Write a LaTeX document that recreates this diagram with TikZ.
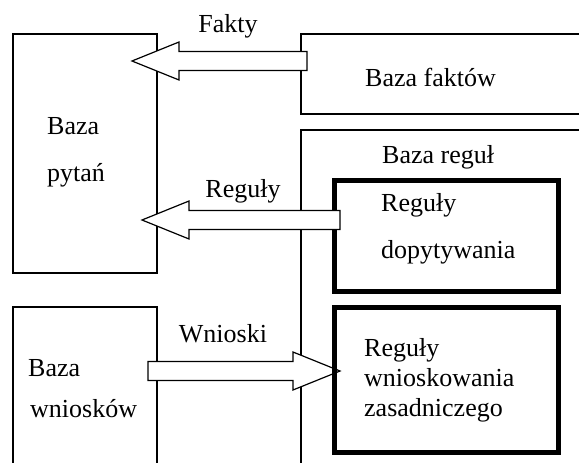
\documentclass[tikz,border=0pt]{standalone}
\usepackage{fontspec}
\setmainfont{Liberation Serif}
\usetikzlibrary{calc}
\def\blockarrow[#1](#2)(#3)% Syntax: [draw options] (tail) (tip), horizontal arrows only
    { \draw[#1] let \p1=(#2), \p2=(#3), \n1={sign(\x2-\x1)*47pt} in
        (\x1,\y1+9.5pt) -- (\x2-\n1,\y1+9.5pt) -- (\x2-\n1,\y1+19pt) -- (\x2,\y2)
        -- (\x2-\n1,\y1-19pt) -- (\x2-\n1,\y1-9.5pt) -- (\x1,\y1-9.5pt) -- cycle; }
\tikzset{
  box/.style={draw, line width=1.8pt, anchor=north west, inner sep=0pt},
  rulebox/.style={draw, line width=4.5pt, anchor=north west, inner sep=0pt},
  txt/.style={anchor=base west, inner sep=0pt, font=\fontsize{26}{30}\selectfont},
  lbl/.style={anchor=base, inner sep=0pt, font=\fontsize{26}{30}\selectfont},
  flow/.style={fill=white, draw, line width=1.2pt, line join=miter}
}
\begin{document}
\begin{tikzpicture}[x=1pt,y=-1pt]
   \useasboundingbox (0,0) rectangle (579,463);

   % bazy po lewej
   \node[box, minimum width=144pt, minimum height=239pt] (pytan) at (12,33) {};
   \node[box, minimum width=144pt, minimum height=170pt] (wnioskow) at (12,306) {};
   \node[txt] (pytan1) at (47,134) {Baza};
   \node[txt] (pytan2) at (47,181) {pytań};
   \node[txt] (wnioskow1) at (28,376) {Baza};
   \node[txt] (wnioskow2) at (30,417) {wniosków};

   % bazy po prawej
   \node[box, minimum width=290pt, minimum height=80pt] (faktow) at (300,33) {};
   \node[box, minimum width=290pt, minimum height=345pt] (regul) at (300,129) {};
   \node[txt] (faktow1) at (365,86) {Baza faktów};
   \node[txt] (regul1) at (382,163) {Baza reguł};

   % wnioski idą pod reguły
   \coordinate (wnioski tail) at (148,371);
   \coordinate (wnioski tip) at (340,371);
   \blockarrow[flow](wnioski tail)(wnioski tip)
   \node[lbl] (wnioski) at (223,342) {Wnioski};

   \node[rulebox, minimum width=224pt, minimum height=111pt] (dopyt) at (332,178) {};
   \node[rulebox, minimum width=224pt, minimum height=145pt] (zasad) at (332,305) {};
   \node[txt] (dopyt1) at (381,211) {Reguły};
   \node[txt] (dopyt2) at (381,258) {dopytywania};
   \node[txt] (zasad1) at (364,356) {Reguły};
   \node[txt] (zasad2) at (364,386) {wnioskowania};
   \node[txt] (zasad3) at (364,416) {zasadniczego};

   % fakty i reguły do bazy pytań
   \coordinate (fakty tail) at (307,61);
   \coordinate (fakty tip) at (132,61);
   \blockarrow[flow](fakty tail)(fakty tip)
   \node[lbl] (fakty) at (228,32) {Fakty};

   \coordinate (reguly tail) at (340,220);
   \coordinate (reguly tip) at (142,220);
   \blockarrow[flow](reguly tail)(reguly tip)
   \node[lbl] (reguly) at (243,197) {Reguły};
\end{tikzpicture}
\end{document}
